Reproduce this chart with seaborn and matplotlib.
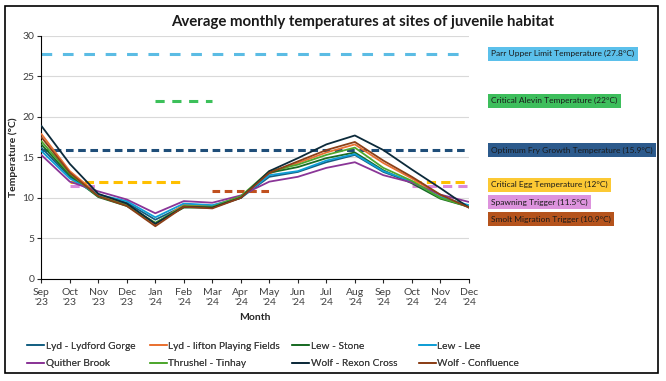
import numpy as np
import pandas as pd
import matplotlib
matplotlib.use("Agg")
import matplotlib.pyplot as plt
import seaborn as sns
from matplotlib.patches import Rectangle

months = ["Sep\n'23", "Oct\n'23", "Nov\n'23", "Dec\n'23", "Jan\n'24", "Feb\n'24", "Mar\n'24", "Apr\n'24",
          "May\n'24", "Jun\n'24", "Jul\n'24", "Aug\n'24", "Sep\n'24", "Oct\n'24", "Nov\n'24", "Dec\n'24"]

lydford_gorge = [16.2, 12.6, 10.3, 9.4, 7.3, 9.0, 9.0, 10.0, 12.6, 13.2, 14.4, 15.3, 13.2, 11.9, 10.0, 9.0]
lifton_fields = [17.9, 13.3, 10.4, 9.2, 6.7, 9.2, 9.0, 10.2, 13.0, 14.3, 15.6, 16.6, 14.3, 12.4, 10.3, 8.9]
lew_stone = [16.6, 12.8, 10.1, 9.0, 6.9, 8.8, 8.8, 10.1, 13.1, 13.8, 14.9, 15.6, 13.4, 11.8, 9.9, 8.9]
lew_lee = [15.8, 12.4, 10.4, 9.6, 7.6, 9.3, 9.1, 10.0, 12.8, 13.3, 14.6, 15.4, 13.3, 12.0, 10.1, 9.1]
quither_brook = [15.3, 12.0, 10.8, 9.8, 8.1, 9.6, 9.4, 10.3, 12.0, 12.6, 13.7, 14.4, 12.8, 11.9, 10.4, 9.5]
thrushel_tinhay = [17.0, 13.0, 10.2, 9.1, 6.9, 9.0, 8.9, 10.2, 13.3, 14.1, 15.3, 16.2, 13.7, 12.1, 10.0, 8.9]
wolf_rexon = [18.9, 14.2, 10.5, 9.3, 6.8, 8.9, 8.8, 10.0, 13.3, 14.9, 16.6, 17.7, 15.9, 13.5, 11.2, 8.8]
wolf_confluence = [17.5, 13.1, 10.2, 9.0, 6.5, 8.9, 8.7, 10.0, 13.1, 14.5, 15.9, 16.9, 14.6, 12.6, 10.4, 8.8]

sites = ["Lyd - Lydford Gorge", "Lyd - lifton Playing Fields", "Lew - Stone", "Lew - Lee",
         "Quither Brook", "Thrushel - Tinhay", "Wolf - Rexon Cross", "Wolf - Confluence"]
site_values = [lydford_gorge, lifton_fields, lew_stone, lew_lee,
               quither_brook, thrushel_tinhay, wolf_rexon, wolf_confluence]
site_colors = ["#156082", "#E97132", "#196B24", "#0F9ED5", "#8A3597", "#4EA72E", "#0C2A3A", "#8B3F17"]

# thresholds: label, value, segments (start month index, end month index)
threshold_names = ["Parr Upper Limit Temperature (27.8°C)", "Critical Alevin Temperature (22°C)",
                   "Optimum Fry Growth Temperature (15.9°C)", "Critical Egg Temperature (12°C)",
                   "Spawning Trigger (11.5°C)", "Smolt Migration Trigger (10.9°C)"]
threshold_values = [27.8, 22.0, 15.9, 12.0, 11.5, 10.9]
threshold_spans = [[(0, 15)], [(4, 6)], [(0, 15)], [(1, 5), (13, 15)], [(1, 2), (13, 15)], [(6, 8)]]
threshold_colors = ["#5BBCE4", "#3CC05A", "#1F4E79", "#FFC000", "#D98ADB", "#C0501E"]
box_colors = ["#5BC0EB", "#3DBE5C", "#2C5A8C", "#FCC934", "#DD93DD", "#B5531C"]
box_y = [27.8, 22.0, 15.9, 11.6, 9.5, 7.4]

rows = []
for name, vals in zip(sites, site_values):
    for i, v in enumerate(vals):
        rows.append({"site": name, "month": i, "temp": v})
df = pd.DataFrame(rows)

sns.set_style("white")
plt.rcParams["font.family"] = ["Lato", "DejaVu Sans"]

fig = plt.figure(figsize=(6.66, 3.81), dpi=100)
ax = fig.add_axes([0.062, 0.268, 0.642, 0.638])

ax.yaxis.grid(True, color="#d9d9d9", linewidth=0.8)
ax.set_axisbelow(True)

dash_styles = [(0, (3.5, 3.5)), (0, (3, 2.5)), (0, (2.5, 1.5)), (0, (3, 1.7)), (0, (3, 2)), (0, (2.5, 1.5))]
for val, spans, col, ds in zip(threshold_values, threshold_spans, threshold_colors, dash_styles):
    for a, b in spans:
        ax.plot([a, b], [val, val], color=col, linewidth=2.2, linestyle=ds, zorder=2)

sns.lineplot(data=df, x="month", y="temp", hue="site", hue_order=sites,
             palette=site_colors, linewidth=1.3, ax=ax, zorder=3)

ax.set_xlim(0, 15)
ax.set_ylim(0, 30)
ax.set_xticks(range(len(months)))
ax.set_xticklabels(months, fontsize=7.5, color="#404040")
ax.set_yticks(range(0, 31, 5))
ax.tick_params(axis="y", labelsize=7.5, labelcolor="#404040", length=3, direction="out", left=True, pad=2)
ax.tick_params(axis="x", length=3, direction="out", bottom=True)
for s in ["top", "right"]:
    ax.spines[s].set_visible(False)
ax.spines["left"].set_color("black")
ax.spines["bottom"].set_color("black")
ax.set_xlabel("Month", fontsize=7.5, fontweight="bold")
ax.set_ylabel("Temperature (°C)", fontsize=7.5, fontweight="bold", labelpad=3)
fig.text(0.545, 0.942, "Average monthly temperatures at sites of juvenile habitat",
         fontsize=10.8, fontweight="bold", ha="center", va="center", color="#1a1a1a")

for name, yv, bc in zip(threshold_names, box_y, box_colors):
    ax.text(1.052, yv / 30, name, transform=ax.transAxes, fontsize=6.0,
            color="#1a1a1a", va="center", ha="left",
            bbox=dict(boxstyle="square,pad=0.4", facecolor=bc, edgecolor="none"))

handles, labels = ax.get_legend_handles_labels()
ax.get_legend().remove()
col_x = [0.036, 0.22, 0.434, 0.624]
for c in range(4):
    idx = [c, c + 4]
    leg = fig.legend([handles[i] for i in idx], [labels[i] for i in idx], ncol=1,
                     loc="lower left", bbox_to_anchor=(col_x[c], 0.025), frameon=False, fontsize=7.3,
                     handlelength=1.7, handletextpad=0.15, labelspacing=0.85, labelcolor="#404040",
                     borderaxespad=0, borderpad=0.3)
    fig.add_artist(leg)

fig.add_artist(Rectangle((0.008, 0.02), 0.98, 0.965, transform=fig.transFigure,
                         fill=False, edgecolor="black", linewidth=1.2))

fig.savefig("out.png", dpi=100)
